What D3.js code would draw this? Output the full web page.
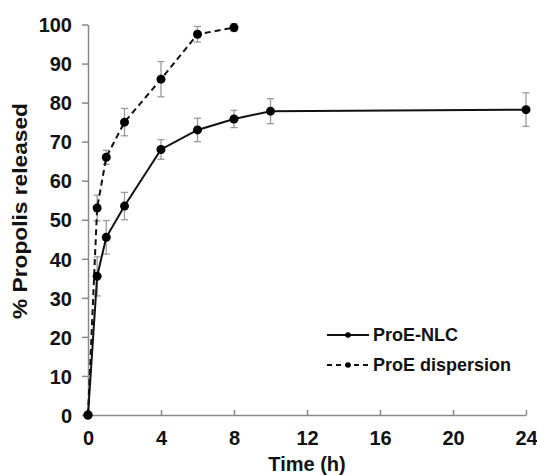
<!DOCTYPE html>
<html>
<head>
<meta charset="utf-8">
<script src="https://cdn.jsdelivr.net/npm/d3@7"></script>
<style>
  body { margin: 0; background: #fff; }
  text { font-family: "Liberation Sans", Arial, sans-serif; font-weight: bold; fill: #111; }
</style>
</head>
<body>
<div id="chart"></div>
<script>
// release profiles
var nlcTime = [0, 0.5, 1, 2, 4, 6, 8, 10, 24];
var nlcMean = [0, 35.5, 45.5, 53.5, 68, 73, 75.8, 77.8, 78.2];
var nlcErr  = [0, 5, 4.3, 3.5, 2.5, 3, 2.2, 3.2, 4.3];

var dispTime = [0, 0.5, 1, 2, 4, 6, 8];
var dispMean = [0, 53, 66, 75, 86, 97.5, 99.2];
var dispErr  = [0, 3.3, 1.8, 3.5, 4.5, 2, 1];

var xTicks = [0, 4, 8, 12, 16, 20, 24];
var yTicks = [0, 10, 20, 30, 40, 50, 60, 70, 80, 90, 100];
var seriesNames = ["ProE-NLC", "ProE dispersion"];

var W = 537, H = 475;
var margin = {left: 88, right: 11, top: 24.5, bottom: 60};

var svg = d3.select("#chart").append("svg")
        .attr("width", W)
        .attr("height", H);

var x = d3.scaleLinear().domain([0, 24]).range([margin.left, W - margin.right]);
var y = d3.scaleLinear().domain([0, 100]).range([H - margin.bottom, margin.top]);

// axes
var xAxis = svg.append("g")
        .attr("transform", "translate(0," + y(0) + ")")
        .call(d3.axisBottom(x).tickValues(xTicks).tickSizeInner(-5).tickSizeOuter(0).tickPadding(16));
var yAxis = svg.append("g")
        .attr("transform", "translate(" + x(0) + ",0)")
        .call(d3.axisLeft(y).tickValues(yTicks).tickSizeInner(6).tickSizeOuter(0).tickPadding(10));

[xAxis, yAxis].forEach(function(ax) {
        ax.select(".domain").attr("stroke", "#8a8a8a").attr("stroke-width", 1.5);
        ax.selectAll(".tick line").attr("stroke", "#8a8a8a").attr("stroke-width", 1.5);
        ax.selectAll(".tick text").style("font-size", "20px").attr("fill", "#111");
});
yAxis.selectAll(".tick text").attr("dy", "0.36em");

// titles
svg.append("text")
        .attr("x", 307).attr("y", 471)
        .attr("text-anchor", "middle")
        .style("font-size", "20px")
        .text("Time (h)");
svg.append("text")
        .attr("transform", "translate(27,211) rotate(-90)")
        .attr("text-anchor", "middle")
        .style("font-size", "20px")
        .attr("textLength", 216)
        .attr("lengthAdjust", "spacingAndGlyphs")
        .text("% Propolis released");

function drawSeries(times, means, errs, dash) {
        var pts = times.map(function(t, i) { return {t: t, m: means[i], e: errs[i]}; });
        var g = svg.append("g");

        // error bars
        var eb = g.selectAll("g.err").data(pts.filter(function(d) { return d.e > 0; }))
                .enter().append("g").attr("class", "err")
                .attr("stroke", "#9a9a9a").attr("stroke-width", 1.3);
        eb.append("line")
                .attr("x1", function(d) { return x(d.t); }).attr("x2", function(d) { return x(d.t); })
                .attr("y1", function(d) { return y(d.m - d.e); }).attr("y2", function(d) { return y(d.m + d.e); });
        eb.append("line")
                .attr("x1", function(d) { return x(d.t) - 3.5; }).attr("x2", function(d) { return x(d.t) + 3.5; })
                .attr("y1", function(d) { return y(d.m + d.e); }).attr("y2", function(d) { return y(d.m + d.e); });
        eb.append("line")
                .attr("x1", function(d) { return x(d.t) - 3.5; }).attr("x2", function(d) { return x(d.t) + 3.5; })
                .attr("y1", function(d) { return y(d.m - d.e); }).attr("y2", function(d) { return y(d.m - d.e); });

        var line = d3.line().x(function(d) { return x(d.t); }).y(function(d) { return y(d.m); });
        g.append("path").datum(pts)
                .attr("d", line)
                .attr("fill", "none")
                .attr("stroke", "#111")
                .attr("stroke-width", 2)
                .attr("stroke-dasharray", dash);

        g.selectAll("circle").data(pts).enter().append("circle")
                .attr("cx", function(d) { return x(d.t); })
                .attr("cy", function(d) { return y(d.m); })
                .attr("r", 4.5)
                .attr("fill", "#000");
}

drawSeries(dispTime, dispMean, dispErr, "6,4");
drawSeries(nlcTime, nlcMean, nlcErr, null);

// legend
var dashes = [null, "5,4"];
var leg = svg.append("g").attr("transform", "translate(327,335)");
seriesNames.forEach(function(name, i) {
        var row = leg.append("g").attr("transform", "translate(0," + (i * 30) + ")");
        row.append("line")
                .attr("x1", 0).attr("x2", 42).attr("y1", 0).attr("y2", 0)
                .attr("stroke", "#111").attr("stroke-width", 1.8)
                .attr("stroke-dasharray", dashes[i]);
        row.append("circle").attr("cx", 21).attr("cy", 0).attr("r", 2.8).attr("fill", "#000");
        row.append("text")
                .attr("x", 46).attr("y", 0).attr("dy", "0.36em")
                .style("font-size", "18px")
                .text(name);
});
</script>
</body>
</html>
